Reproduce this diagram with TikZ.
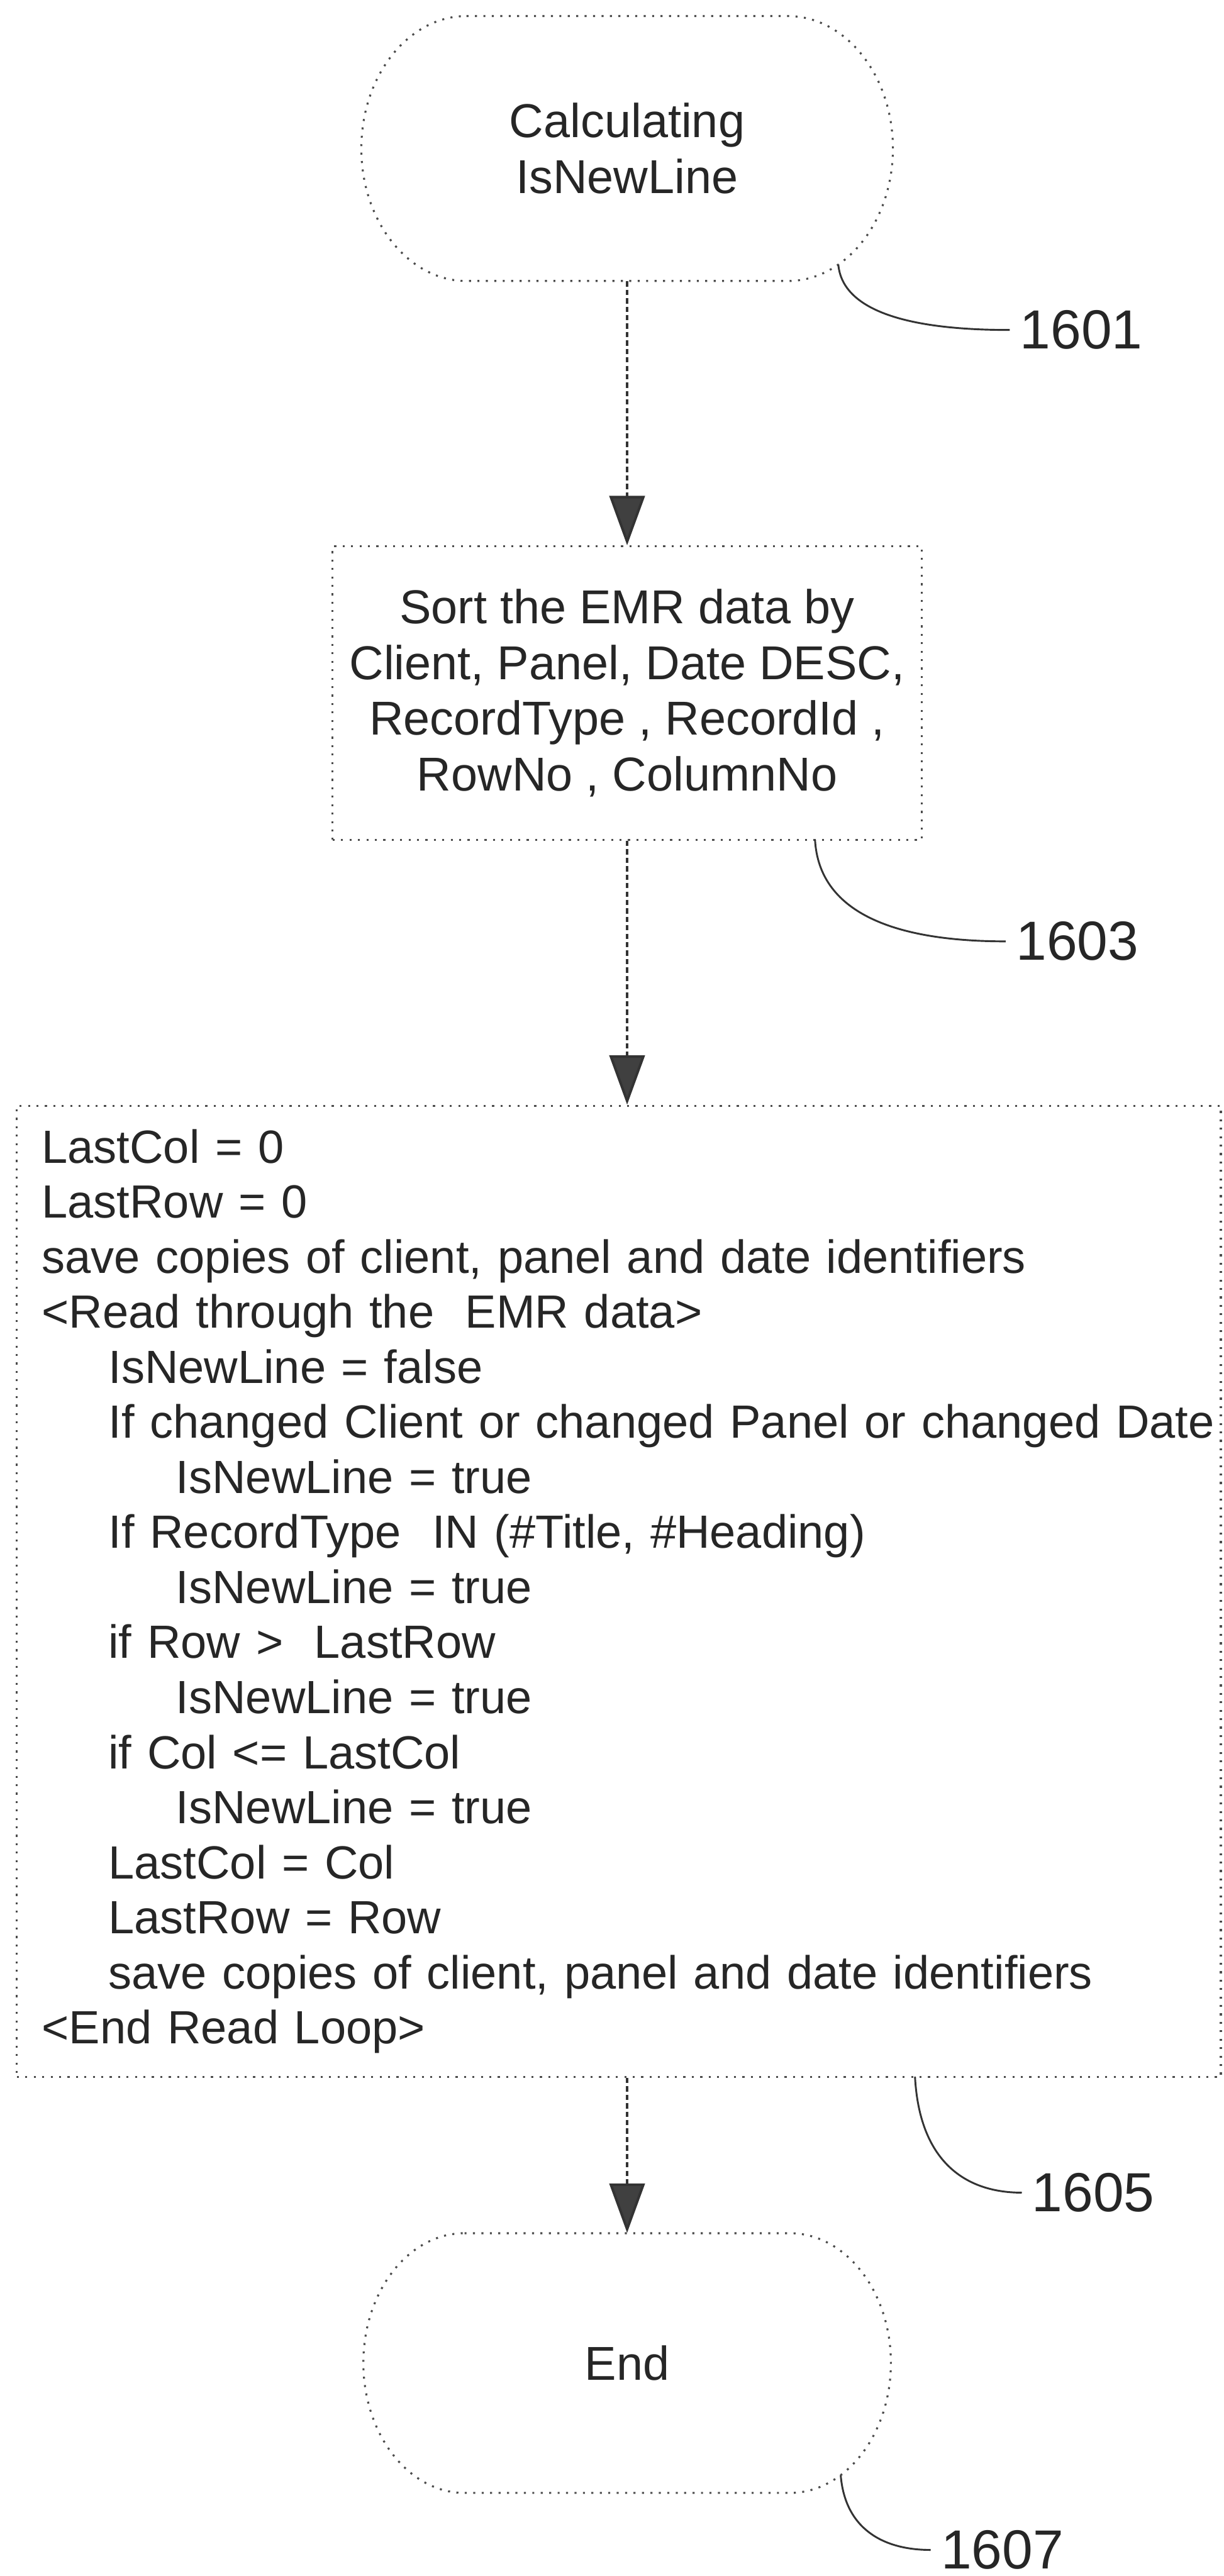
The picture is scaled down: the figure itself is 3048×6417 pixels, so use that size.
\documentclass[tikz,border=0pt]{standalone}
\usepackage{fontspec}
\setmainfont{Liberation Sans}
\usetikzlibrary{arrows.meta}
\begin{document}
\begin{tikzpicture}[x=0.01cm, y=-0.01cm,
  txt/.style={font=\fontsize{33.7}{39.5}\selectfont, text=black!85},
  looptxt/.style={font=\fontsize{33}{39}\selectfont, text=black!85},
  lab/.style={font=\fontsize{39}{42}\selectfont, text=black!85, inner sep=0.25cm, anchor=west},
  dotbox/.style={draw=black!70, line width=1.4pt, dash pattern=on 0.05cm off 0.16cm},
  conn/.style={draw=black!80, line width=1.8pt, dash pattern=on 0.13cm off 0.08cm,
    -{Triangle[length=1.23cm,width=0.88cm,fill=black!75]}},
  lead/.style={draw=black!80, line width=1.3pt}]
\useasboundingbox (0,0) rectangle (3048,6417);

% start terminal
\node[txt, align=center, minimum width=13.25cm, minimum height=6.6cm, inner sep=0] (start) at (1562,370) {Calculating\\IsNewLine};
\draw[dotbox] (1162,40) -- (1962,40) .. controls (2106,40) and (2224,188) .. (2224,370)
  .. controls (2224,552) and (2106,700) .. (1962,700) -- (1162,700)
  .. controls (1018,700) and (900,552) .. (900,370)
  .. controls (900,188) and (1018,40) .. (1162,40) -- cycle;

% sort box
\node[txt, dotbox, align=center, minimum width=14.66cm, minimum height=7.31cm, inner sep=0] (sort) at (1562,1726.5)
  {Sort the EMR data by\\Client, Panel, Date DESC,\\RecordType , RecordId ,\\RowNo , ColumnNo};

% loop box
\node[looptxt, dotbox, align=left, text width=28.73cm, minimum width=29.97cm, minimum height=24.18cm,
  inner xsep=0.56cm, inner ysep=0] (loop) at (1541.5,3964) {%
\mbox{LastCol = 0}\\
\mbox{LastRow = 0}\\
\mbox{save copies of client, panel and date identifiers}\\
\mbox{<Read through the \ EMR data>}\\
\mbox{\hspace*{1.66cm}IsNewLine = false}\\
\mbox{\hspace*{1.66cm}If changed Client or changed Panel or changed Date}\\
\mbox{\hspace*{3.34cm}IsNewLine = true}\\
\mbox{\hspace*{1.66cm}If RecordType \ IN (\#Title, \#Heading)}\\
\mbox{\hspace*{3.34cm}IsNewLine = true}\\
\mbox{\hspace*{1.66cm}if Row > \ LastRow}\\
\mbox{\hspace*{3.34cm}IsNewLine = true}\\
\mbox{\hspace*{1.66cm}if Col <= LastCol}\\
\mbox{\hspace*{3.34cm}IsNewLine = true}\\
\mbox{\hspace*{1.66cm}LastCol = Col}\\
\mbox{\hspace*{1.66cm}LastRow = Row}\\
\mbox{\hspace*{1.66cm}save copies of client, panel and date identifiers}\\
\mbox{<End Read Loop>}};

% end terminal
\node[txt, align=center, minimum width=13.14cm, minimum height=6.47cm, inner sep=0] (endn) at (1562,5886.5) {End};
\draw[dotbox] (1157,5563) -- (1967,5563) .. controls (2106,5563) and (2219,5708) .. (2219,5886)
  .. controls (2219,6064) and (2106,6210) .. (1967,6210) -- (1157,6210)
  .. controls (1018,6210) and (905,6064) .. (905,5886)
  .. controls (905,5708) and (1018,5563) .. (1157,5563) -- cycle;

% connectors
\draw[conn] (start.south) -- (sort.north);
\draw[conn] (sort.south) -- (sort.south |- loop.north);
\draw[conn] (endn.north |- loop.south) -- (endn.north);

% reference labels
\node[lab] (l1601) at (2515,822) {1601};
\node[lab] (l1603) at (2505,2345) {1603};
\node[lab] (l1605) at (2545,5462) {1605};
\node[lab] (l1607) at (2318,6352) {1607};
\coordinate (s1601) at (2088,659);
\coordinate (s1603) at (2030,2092);
\coordinate (s1605) at (2279,5173);
\coordinate (s1607) at (2094,6166);
\draw[lead] (s1601) .. controls (2098,770) and (2250,822) .. (l1601.west);
\draw[lead] (s1603) .. controls (2040,2270) and (2220,2345) .. (l1603.west);
\draw[lead] (s1605) .. controls (2290,5380) and (2400,5462) .. (l1605.west);
\draw[lead] (s1607) .. controls (2105,6300) and (2200,6352) .. (l1607.west);
\end{tikzpicture}
\end{document}
